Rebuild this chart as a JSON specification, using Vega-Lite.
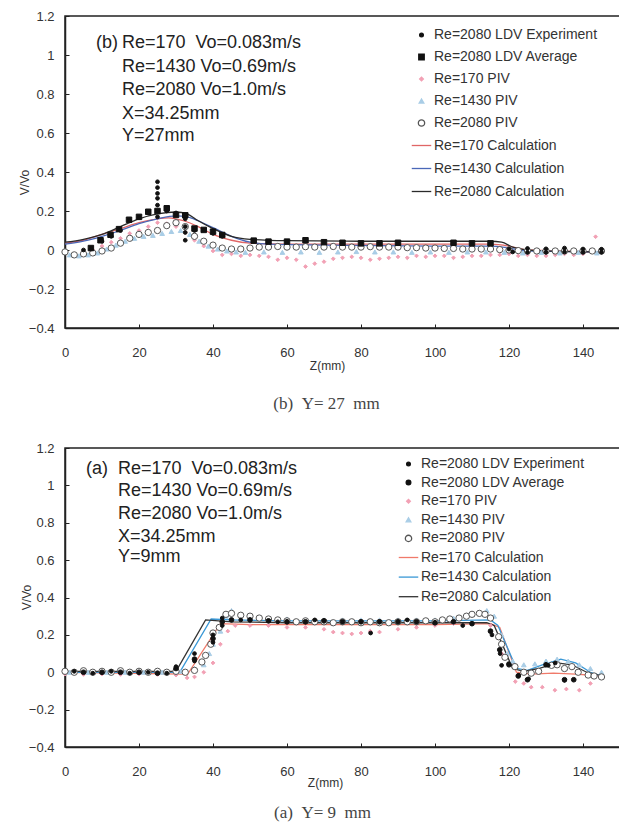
{
  "$schema": "https://vega.github.io/schema/vega-lite/v6.json",
  "padding": {"left": 17, "top": 9, "right": 0, "bottom": 0},
  "background": "white",
  "bounds": "flush",
  "spacing": 120,
  "config": {
    "view": {"stroke": "#222", "strokeWidth": 1.5},
    "font": "Liberation Sans",
    "axis": {"grid": false, "domainColor": "#222", "domainWidth": 1.5, "tickColor": "#222", "tickSize": -4, "tickWidth": 1, "labelFont": "Liberation Sans", "labelFontSize": 13, "labelColor": "#333", "titleFont": "Liberation Sans", "titleFontSize": 12, "titleFontWeight": "normal", "titleColor": "#333", "labelFlush": false, "labelOverlap": false},
    "axisY": {"labelOverlap": false, "labelSeparation": 0},
    "axisQuantitative": {"labelOverlap": false},
    "title": {"font": "Liberation Serif", "fontSize": 17, "fontWeight": "normal", "color": "#444"}
  },
  "datasets": {
    "topLines": [
      {"z":0,"v":0.035,"s":"Re=170 Calculation"},{"z":5,"v":0.05,"s":"Re=170 Calculation"},{"z":10,"v":0.08,"s":"Re=170 Calculation"},{"z":15,"v":0.11,"s":"Re=170 Calculation"},{"z":20,"v":0.14,"s":"Re=170 Calculation"},{"z":25,"v":0.16,"s":"Re=170 Calculation"},{"z":28,"v":0.165,"s":"Re=170 Calculation"},{"z":32,"v":0.15,"s":"Re=170 Calculation"},{"z":36,"v":0.12,"s":"Re=170 Calculation"},{"z":40,"v":0.08,"s":"Re=170 Calculation"},{"z":45,"v":0.05,"s":"Re=170 Calculation"},{"z":50,"v":0.035,"s":"Re=170 Calculation"},{"z":60,"v":0.03,"s":"Re=170 Calculation"},{"z":100,"v":0.03,"s":"Re=170 Calculation"},{"z":115,"v":0.03,"s":"Re=170 Calculation"},{"z":120,"v":0.02,"s":"Re=170 Calculation"},{"z":125,"v":0.0,"s":"Re=170 Calculation"},{"z":145,"v":-0.01,"s":"Re=170 Calculation"},
      {"z":0,"v":0.03,"s":"Re=1430 Calculation"},{"z":5,"v":0.045,"s":"Re=1430 Calculation"},{"z":10,"v":0.07,"s":"Re=1430 Calculation"},{"z":15,"v":0.1,"s":"Re=1430 Calculation"},{"z":20,"v":0.135,"s":"Re=1430 Calculation"},{"z":25,"v":0.16,"s":"Re=1430 Calculation"},{"z":30,"v":0.175,"s":"Re=1430 Calculation"},{"z":33,"v":0.17,"s":"Re=1430 Calculation"},{"z":36,"v":0.15,"s":"Re=1430 Calculation"},{"z":40,"v":0.115,"s":"Re=1430 Calculation"},{"z":45,"v":0.07,"s":"Re=1430 Calculation"},{"z":50,"v":0.04,"s":"Re=1430 Calculation"},{"z":55,"v":0.03,"s":"Re=1430 Calculation"},{"z":70,"v":0.025,"s":"Re=1430 Calculation"},{"z":100,"v":0.02,"s":"Re=1430 Calculation"},{"z":115,"v":0.02,"s":"Re=1430 Calculation"},{"z":120,"v":0.01,"s":"Re=1430 Calculation"},{"z":125,"v":-0.005,"s":"Re=1430 Calculation"},{"z":145,"v":-0.01,"s":"Re=1430 Calculation"},
      {"z":0,"v":0.04,"s":"Re=2080 Calculation"},{"z":5,"v":0.055,"s":"Re=2080 Calculation"},{"z":10,"v":0.08,"s":"Re=2080 Calculation"},{"z":15,"v":0.12,"s":"Re=2080 Calculation"},{"z":20,"v":0.16,"s":"Re=2080 Calculation"},{"z":25,"v":0.185,"s":"Re=2080 Calculation"},{"z":30,"v":0.195,"s":"Re=2080 Calculation"},{"z":33,"v":0.185,"s":"Re=2080 Calculation"},{"z":36,"v":0.15,"s":"Re=2080 Calculation"},{"z":40,"v":0.11,"s":"Re=2080 Calculation"},{"z":45,"v":0.07,"s":"Re=2080 Calculation"},{"z":50,"v":0.055,"s":"Re=2080 Calculation"},{"z":60,"v":0.048,"s":"Re=2080 Calculation"},{"z":80,"v":0.045,"s":"Re=2080 Calculation"},{"z":100,"v":0.045,"s":"Re=2080 Calculation"},{"z":115,"v":0.045,"s":"Re=2080 Calculation"},{"z":118,"v":0.04,"s":"Re=2080 Calculation"},{"z":121,"v":0.015,"s":"Re=2080 Calculation"},{"z":125,"v":0.0,"s":"Re=2080 Calculation"},{"z":130,"v":-0.005,"s":"Re=2080 Calculation"},{"z":145,"v":-0.01,"s":"Re=2080 Calculation"}
    ],
    "topPoints": [
      {"z":0,"v":-0.005,"s":"Re=170 PIV"},{"z":2.5,"v":-0.02,"s":"Re=170 PIV"},{"z":5,"v":-0.02,"s":"Re=170 PIV"},{"z":7.5,"v":0.0,"s":"Re=170 PIV"},{"z":10,"v":0.02,"s":"Re=170 PIV"},{"z":12.5,"v":0.04,"s":"Re=170 PIV"},{"z":15,"v":0.06,"s":"Re=170 PIV"},{"z":17.5,"v":0.085,"s":"Re=170 PIV"},{"z":20,"v":0.1,"s":"Re=170 PIV"},{"z":22.5,"v":0.12,"s":"Re=170 PIV"},{"z":25,"v":0.14,"s":"Re=170 PIV"},{"z":27.5,"v":0.135,"s":"Re=170 PIV"},{"z":30,"v":0.12,"s":"Re=170 PIV"},{"z":32.5,"v":0.09,"s":"Re=170 PIV"},{"z":35,"v":0.05,"s":"Re=170 PIV"},{"z":37.5,"v":0.02,"s":"Re=170 PIV"},{"z":40,"v":-0.005,"s":"Re=170 PIV"},{"z":42.5,"v":-0.025,"s":"Re=170 PIV"},{"z":45,"v":-0.02,"s":"Re=170 PIV"},{"z":47.5,"v":-0.03,"s":"Re=170 PIV"},{"z":50,"v":-0.025,"s":"Re=170 PIV"},{"z":52.5,"v":-0.03,"s":"Re=170 PIV"},{"z":55,"v":-0.035,"s":"Re=170 PIV"},{"z":57.5,"v":-0.05,"s":"Re=170 PIV"},{"z":60,"v":-0.04,"s":"Re=170 PIV"},{"z":62.5,"v":-0.05,"s":"Re=170 PIV"},{"z":65,"v":-0.085,"s":"Re=170 PIV"},{"z":67.5,"v":-0.07,"s":"Re=170 PIV"},{"z":70,"v":-0.06,"s":"Re=170 PIV"},{"z":72.5,"v":-0.045,"s":"Re=170 PIV"},{"z":75,"v":-0.04,"s":"Re=170 PIV"},{"z":77.5,"v":-0.035,"s":"Re=170 PIV"},{"z":80,"v":-0.04,"s":"Re=170 PIV"},{"z":82.5,"v":-0.05,"s":"Re=170 PIV"},{"z":85,"v":-0.045,"s":"Re=170 PIV"},{"z":87.5,"v":-0.04,"s":"Re=170 PIV"},{"z":90,"v":-0.035,"s":"Re=170 PIV"},{"z":92.5,"v":-0.04,"s":"Re=170 PIV"},{"z":95,"v":-0.03,"s":"Re=170 PIV"},{"z":97.5,"v":-0.035,"s":"Re=170 PIV"},{"z":100,"v":-0.03,"s":"Re=170 PIV"},{"z":102.5,"v":-0.03,"s":"Re=170 PIV"},{"z":105,"v":-0.04,"s":"Re=170 PIV"},{"z":107.5,"v":-0.035,"s":"Re=170 PIV"},{"z":110,"v":-0.03,"s":"Re=170 PIV"},{"z":112.5,"v":-0.03,"s":"Re=170 PIV"},{"z":115,"v":-0.025,"s":"Re=170 PIV"},{"z":117.5,"v":-0.025,"s":"Re=170 PIV"},{"z":120,"v":-0.02,"s":"Re=170 PIV"},{"z":122.5,"v":-0.03,"s":"Re=170 PIV"},{"z":125,"v":-0.025,"s":"Re=170 PIV"},{"z":127.5,"v":-0.03,"s":"Re=170 PIV"},{"z":130,"v":-0.03,"s":"Re=170 PIV"},{"z":132.5,"v":-0.025,"s":"Re=170 PIV"},{"z":135,"v":-0.02,"s":"Re=170 PIV"},{"z":137.5,"v":-0.025,"s":"Re=170 PIV"},{"z":140,"v":-0.02,"s":"Re=170 PIV"},{"z":143.4,"v":0.068,"s":"Re=170 PIV"},
      {"z":1.25,"v":-0.025,"s":"Re=1430 PIV"},{"z":3.75,"v":-0.03,"s":"Re=1430 PIV"},{"z":6.25,"v":-0.025,"s":"Re=1430 PIV"},{"z":8.75,"v":-0.015,"s":"Re=1430 PIV"},{"z":11.25,"v":0.005,"s":"Re=1430 PIV"},{"z":13.75,"v":0.025,"s":"Re=1430 PIV"},{"z":16.25,"v":0.045,"s":"Re=1430 PIV"},{"z":18.75,"v":0.06,"s":"Re=1430 PIV"},{"z":21.25,"v":0.07,"s":"Re=1430 PIV"},{"z":23.75,"v":0.075,"s":"Re=1430 PIV"},{"z":26.25,"v":0.085,"s":"Re=1430 PIV"},{"z":28.75,"v":0.095,"s":"Re=1430 PIV"},{"z":31.25,"v":0.1,"s":"Re=1430 PIV"},{"z":33.75,"v":0.08,"s":"Re=1430 PIV"},{"z":36.25,"v":0.045,"s":"Re=1430 PIV"},{"z":38.75,"v":0.02,"s":"Re=1430 PIV"},{"z":41.25,"v":0.005,"s":"Re=1430 PIV"},{"z":43.75,"v":-0.005,"s":"Re=1430 PIV"},{"z":46.25,"v":-0.01,"s":"Re=1430 PIV"},{"z":48.75,"v":-0.012,"s":"Re=1430 PIV"},{"z":53.75,"v":-0.01,"s":"Re=1430 PIV"},{"z":58.75,"v":-0.012,"s":"Re=1430 PIV"},{"z":63.75,"v":-0.01,"s":"Re=1430 PIV"},{"z":68.75,"v":-0.012,"s":"Re=1430 PIV"},{"z":73.75,"v":-0.01,"s":"Re=1430 PIV"},{"z":78.75,"v":-0.008,"s":"Re=1430 PIV"},{"z":83.75,"v":-0.01,"s":"Re=1430 PIV"},{"z":88.75,"v":-0.01,"s":"Re=1430 PIV"},{"z":93.75,"v":-0.012,"s":"Re=1430 PIV"},{"z":98.75,"v":-0.01,"s":"Re=1430 PIV"},{"z":103.75,"v":-0.012,"s":"Re=1430 PIV"},{"z":108.75,"v":-0.01,"s":"Re=1430 PIV"},{"z":113.75,"v":-0.01,"s":"Re=1430 PIV"},{"z":118.75,"v":-0.012,"s":"Re=1430 PIV"},{"z":123.75,"v":-0.015,"s":"Re=1430 PIV"},{"z":128.75,"v":-0.012,"s":"Re=1430 PIV"},{"z":133.75,"v":-0.015,"s":"Re=1430 PIV"},{"z":138.75,"v":-0.012,"s":"Re=1430 PIV"},{"z":143.75,"v":-0.015,"s":"Re=1430 PIV"},
      {"z":0,"v":-0.01,"s":"Re=2080 PIV"},{"z":2.5,"v":-0.025,"s":"Re=2080 PIV"},{"z":5,"v":-0.02,"s":"Re=2080 PIV"},{"z":7.5,"v":-0.015,"s":"Re=2080 PIV"},{"z":10,"v":-0.005,"s":"Re=2080 PIV"},{"z":12.5,"v":0.01,"s":"Re=2080 PIV"},{"z":15,"v":0.035,"s":"Re=2080 PIV"},{"z":17.5,"v":0.06,"s":"Re=2080 PIV"},{"z":20,"v":0.08,"s":"Re=2080 PIV"},{"z":22.5,"v":0.09,"s":"Re=2080 PIV"},{"z":25,"v":0.1,"s":"Re=2080 PIV"},{"z":27.5,"v":0.125,"s":"Re=2080 PIV"},{"z":30,"v":0.14,"s":"Re=2080 PIV"},{"z":32.5,"v":0.12,"s":"Re=2080 PIV"},{"z":35,"v":0.07,"s":"Re=2080 PIV"},{"z":37.5,"v":0.045,"s":"Re=2080 PIV"},{"z":40,"v":0.025,"s":"Re=2080 PIV"},{"z":42.5,"v":0.01,"s":"Re=2080 PIV"},{"z":45,"v":0.005,"s":"Re=2080 PIV"},{"z":47.5,"v":0.005,"s":"Re=2080 PIV"},{"z":50,"v":0.01,"s":"Re=2080 PIV"},{"z":52.5,"v":0.015,"s":"Re=2080 PIV"},{"z":55,"v":0.015,"s":"Re=2080 PIV"},{"z":57.5,"v":0.018,"s":"Re=2080 PIV"},{"z":60,"v":0.015,"s":"Re=2080 PIV"},{"z":62.5,"v":0.015,"s":"Re=2080 PIV"},{"z":65,"v":0.017,"s":"Re=2080 PIV"},{"z":67.5,"v":0.015,"s":"Re=2080 PIV"},{"z":70,"v":0.015,"s":"Re=2080 PIV"},{"z":72.5,"v":0.018,"s":"Re=2080 PIV"},{"z":75,"v":0.015,"s":"Re=2080 PIV"},{"z":77.5,"v":0.015,"s":"Re=2080 PIV"},{"z":80,"v":0.015,"s":"Re=2080 PIV"},{"z":82.5,"v":0.017,"s":"Re=2080 PIV"},{"z":85,"v":0.015,"s":"Re=2080 PIV"},{"z":87.5,"v":0.015,"s":"Re=2080 PIV"},{"z":90,"v":0.015,"s":"Re=2080 PIV"},{"z":92.5,"v":0.012,"s":"Re=2080 PIV"},{"z":95,"v":0.012,"s":"Re=2080 PIV"},{"z":97.5,"v":0.01,"s":"Re=2080 PIV"},{"z":100,"v":0.01,"s":"Re=2080 PIV"},{"z":102.5,"v":0.008,"s":"Re=2080 PIV"},{"z":105,"v":0.008,"s":"Re=2080 PIV"},{"z":107.5,"v":0.005,"s":"Re=2080 PIV"},{"z":110,"v":0.005,"s":"Re=2080 PIV"},{"z":112.5,"v":0.005,"s":"Re=2080 PIV"},{"z":115,"v":0.005,"s":"Re=2080 PIV"},{"z":117.5,"v":0.002,"s":"Re=2080 PIV"},{"z":120,"v":0.0,"s":"Re=2080 PIV"},{"z":122.5,"v":-0.003,"s":"Re=2080 PIV"},{"z":125,"v":-0.005,"s":"Re=2080 PIV"},{"z":127.5,"v":-0.005,"s":"Re=2080 PIV"},{"z":130,"v":-0.005,"s":"Re=2080 PIV"},{"z":132.5,"v":-0.005,"s":"Re=2080 PIV"},{"z":135,"v":-0.005,"s":"Re=2080 PIV"},{"z":137.5,"v":-0.005,"s":"Re=2080 PIV"},{"z":140,"v":-0.005,"s":"Re=2080 PIV"},{"z":142.5,"v":-0.005,"s":"Re=2080 PIV"},{"z":145,"v":-0.005,"s":"Re=2080 PIV"},
      {"z":7,"v":0.01,"s":"Re=2080 LDV Average"},{"z":9.6,"v":0.05,"s":"Re=2080 LDV Average"},{"z":12.3,"v":0.078,"s":"Re=2080 LDV Average"},{"z":14.6,"v":0.107,"s":"Re=2080 LDV Average"},{"z":17.3,"v":0.155,"s":"Re=2080 LDV Average"},{"z":20,"v":0.17,"s":"Re=2080 LDV Average"},{"z":22.5,"v":0.196,"s":"Re=2080 LDV Average"},{"z":25,"v":0.2,"s":"Re=2080 LDV Average"},{"z":27.5,"v":0.214,"s":"Re=2080 LDV Average"},{"z":30,"v":0.18,"s":"Re=2080 LDV Average"},{"z":32.5,"v":0.178,"s":"Re=2080 LDV Average"},{"z":35,"v":0.11,"s":"Re=2080 LDV Average"},{"z":37.5,"v":0.103,"s":"Re=2080 LDV Average"},{"z":40,"v":0.094,"s":"Re=2080 LDV Average"},{"z":42.5,"v":0.077,"s":"Re=2080 LDV Average"},{"z":51,"v":0.048,"s":"Re=2080 LDV Average"},{"z":55,"v":0.043,"s":"Re=2080 LDV Average"},{"z":60,"v":0.043,"s":"Re=2080 LDV Average"},{"z":65,"v":0.05,"s":"Re=2080 LDV Average"},{"z":70,"v":0.04,"s":"Re=2080 LDV Average"},{"z":75,"v":0.037,"s":"Re=2080 LDV Average"},{"z":80,"v":0.034,"s":"Re=2080 LDV Average"},{"z":85,"v":0.034,"s":"Re=2080 LDV Average"},{"z":90,"v":0.037,"s":"Re=2080 LDV Average"},{"z":105,"v":0.037,"s":"Re=2080 LDV Average"},{"z":110,"v":0.034,"s":"Re=2080 LDV Average"},{"z":115,"v":0.034,"s":"Re=2080 LDV Average"},
      {"z":5,"v":0.0,"s":"Re=2080 LDV Experiment"},{"z":7,"v":0.005,"s":"Re=2080 LDV Experiment"},{"z":10,"v":0.045,"s":"Re=2080 LDV Experiment"},{"z":12.5,"v":0.07,"s":"Re=2080 LDV Experiment"},{"z":15,"v":0.1,"s":"Re=2080 LDV Experiment"},{"z":17.5,"v":0.15,"s":"Re=2080 LDV Experiment"},{"z":20,"v":0.165,"s":"Re=2080 LDV Experiment"},{"z":22.5,"v":0.19,"s":"Re=2080 LDV Experiment"},{"z":25,"v":0.35,"s":"Re=2080 LDV Experiment"},{"z":25,"v":0.32,"s":"Re=2080 LDV Experiment"},{"z":25,"v":0.29,"s":"Re=2080 LDV Experiment"},{"z":25,"v":0.265,"s":"Re=2080 LDV Experiment"},{"z":25,"v":0.23,"s":"Re=2080 LDV Experiment"},{"z":25,"v":0.17,"s":"Re=2080 LDV Experiment"},{"z":27.5,"v":0.2,"s":"Re=2080 LDV Experiment"},{"z":30,"v":0.19,"s":"Re=2080 LDV Experiment"},{"z":32.5,"v":0.16,"s":"Re=2080 LDV Experiment"},{"z":32.5,"v":0.12,"s":"Re=2080 LDV Experiment"},{"z":32.5,"v":0.09,"s":"Re=2080 LDV Experiment"},{"z":32.5,"v":0.05,"s":"Re=2080 LDV Experiment"},{"z":35,"v":0.1,"s":"Re=2080 LDV Experiment"},{"z":40,"v":0.085,"s":"Re=2080 LDV Experiment"},{"z":42.5,"v":0.07,"s":"Re=2080 LDV Experiment"},{"z":120,"v":0.005,"s":"Re=2080 LDV Experiment"},{"z":121,"v":-0.01,"s":"Re=2080 LDV Experiment"},{"z":125,"v":-0.012,"s":"Re=2080 LDV Experiment"},{"z":125,"v":0.008,"s":"Re=2080 LDV Experiment"},{"z":130,"v":-0.012,"s":"Re=2080 LDV Experiment"},{"z":130,"v":0.006,"s":"Re=2080 LDV Experiment"},{"z":135,"v":-0.01,"s":"Re=2080 LDV Experiment"},{"z":135,"v":0.01,"s":"Re=2080 LDV Experiment"},{"z":140,"v":-0.012,"s":"Re=2080 LDV Experiment"},{"z":140,"v":0.005,"s":"Re=2080 LDV Experiment"},{"z":145,"v":-0.012,"s":"Re=2080 LDV Experiment"},{"z":145,"v":0.004,"s":"Re=2080 LDV Experiment"}
    ],
    "topText": [
      {"z":8.4,"v":1.06,"t":"(b)"},{"z":15.4,"v":1.06,"t":"Re=170\u00a0\u00a0Vo=0.083m/s"},{"z":15.4,"v":0.938,"t":"Re=1430 Vo=0.69m/s"},{"z":15.4,"v":0.82,"t":"Re=2080 Vo=1.0m/s"},{"z":15.4,"v":0.70,"t":"X=34.25mm"},{"z":15.4,"v":0.585,"t":"Y=27mm"}
    ],
    "botLines": [
      {"z":0,"v":0.0,"s":"Re=170 Calculation"},{"z":32,"v":-0.01,"s":"Re=170 Calculation"},{"z":33,"v":-0.015,"s":"Re=170 Calculation"},{"z":42,"v":0.26,"s":"Re=170 Calculation"},{"z":50,"v":0.255,"s":"Re=170 Calculation"},{"z":100,"v":0.255,"s":"Re=170 Calculation"},{"z":115,"v":0.26,"s":"Re=170 Calculation"},{"z":117.5,"v":0.24,"s":"Re=170 Calculation"},{"z":122,"v":0.0,"s":"Re=170 Calculation"},{"z":126,"v":-0.01,"s":"Re=170 Calculation"},{"z":132,"v":-0.005,"s":"Re=170 Calculation"},{"z":138,"v":-0.01,"s":"Re=170 Calculation"},{"z":145,"v":-0.02,"s":"Re=170 Calculation"},
      {"z":0,"v":0.0,"s":"Re=1430 Calculation"},{"z":31,"v":0.0,"s":"Re=1430 Calculation"},{"z":39.5,"v":0.285,"s":"Re=1430 Calculation"},{"z":45,"v":0.28,"s":"Re=1430 Calculation"},{"z":60,"v":0.275,"s":"Re=1430 Calculation"},{"z":100,"v":0.275,"s":"Re=1430 Calculation"},{"z":115,"v":0.28,"s":"Re=1430 Calculation"},{"z":117,"v":0.25,"s":"Re=1430 Calculation"},{"z":122,"v":0.02,"s":"Re=1430 Calculation"},{"z":125,"v":0.01,"s":"Re=1430 Calculation"},{"z":129,"v":0.04,"s":"Re=1430 Calculation"},{"z":134,"v":0.07,"s":"Re=1430 Calculation"},{"z":138,"v":0.05,"s":"Re=1430 Calculation"},{"z":142,"v":0.0,"s":"Re=1430 Calculation"},{"z":145,"v":-0.02,"s":"Re=1430 Calculation"},
      {"z":0,"v":0.005,"s":"Re=2080 Calculation"},{"z":30,"v":0.005,"s":"Re=2080 Calculation"},{"z":38,"v":0.28,"s":"Re=2080 Calculation"},{"z":45,"v":0.27,"s":"Re=2080 Calculation"},{"z":60,"v":0.265,"s":"Re=2080 Calculation"},{"z":100,"v":0.265,"s":"Re=2080 Calculation"},{"z":114,"v":0.265,"s":"Re=2080 Calculation"},{"z":116,"v":0.25,"s":"Re=2080 Calculation"},{"z":121,"v":0.02,"s":"Re=2080 Calculation"},{"z":124,"v":0.005,"s":"Re=2080 Calculation"},{"z":128,"v":0.02,"s":"Re=2080 Calculation"},{"z":133,"v":0.05,"s":"Re=2080 Calculation"},{"z":137,"v":0.04,"s":"Re=2080 Calculation"},{"z":141,"v":0.0,"s":"Re=2080 Calculation"},{"z":145,"v":-0.02,"s":"Re=2080 Calculation"}
    ],
    "botPoints": [
      {"z":0,"v":-0.01,"s":"Re=170 PIV"},{"z":5,"v":-0.012,"s":"Re=170 PIV"},{"z":10,"v":-0.01,"s":"Re=170 PIV"},{"z":15,"v":-0.012,"s":"Re=170 PIV"},{"z":20,"v":-0.01,"s":"Re=170 PIV"},{"z":25,"v":-0.012,"s":"Re=170 PIV"},{"z":30,"v":-0.015,"s":"Re=170 PIV"},{"z":33,"v":-0.03,"s":"Re=170 PIV"},{"z":35,"v":-0.025,"s":"Re=170 PIV"},{"z":37.5,"v":0.0,"s":"Re=170 PIV"},{"z":40,"v":0.05,"s":"Re=170 PIV"},{"z":42,"v":0.15,"s":"Re=170 PIV"},{"z":44,"v":0.22,"s":"Re=170 PIV"},{"z":46,"v":0.25,"s":"Re=170 PIV"},{"z":50,"v":0.25,"s":"Re=170 PIV"},{"z":55,"v":0.25,"s":"Re=170 PIV"},{"z":60,"v":0.24,"s":"Re=170 PIV"},{"z":65,"v":0.24,"s":"Re=170 PIV"},{"z":70,"v":0.23,"s":"Re=170 PIV"},{"z":72.5,"v":0.215,"s":"Re=170 PIV"},{"z":75,"v":0.21,"s":"Re=170 PIV"},{"z":77.5,"v":0.205,"s":"Re=170 PIV"},{"z":80,"v":0.21,"s":"Re=170 PIV"},{"z":82.5,"v":0.22,"s":"Re=170 PIV"},{"z":85,"v":0.215,"s":"Re=170 PIV"},{"z":90,"v":0.23,"s":"Re=170 PIV"},{"z":95,"v":0.24,"s":"Re=170 PIV"},{"z":100,"v":0.25,"s":"Re=170 PIV"},{"z":105,"v":0.26,"s":"Re=170 PIV"},{"z":110,"v":0.26,"s":"Re=170 PIV"},{"z":115,"v":0.25,"s":"Re=170 PIV"},{"z":118,"v":0.1,"s":"Re=170 PIV"},{"z":121.7,"v":-0.05,"s":"Re=170 PIV"},{"z":124,"v":-0.06,"s":"Re=170 PIV"},{"z":126,"v":-0.08,"s":"Re=170 PIV"},{"z":129,"v":-0.08,"s":"Re=170 PIV"},{"z":132.4,"v":-0.096,"s":"Re=170 PIV"},{"z":135.5,"v":-0.09,"s":"Re=170 PIV"},{"z":139,"v":-0.096,"s":"Re=170 PIV"},{"z":142,"v":-0.06,"s":"Re=170 PIV"},
      {"z":1.25,"v":0.0,"s":"Re=1430 PIV"},{"z":6.25,"v":0.0,"s":"Re=1430 PIV"},{"z":11.25,"v":0.0,"s":"Re=1430 PIV"},{"z":16.25,"v":0.0,"s":"Re=1430 PIV"},{"z":21.25,"v":0.0,"s":"Re=1430 PIV"},{"z":26.25,"v":0.0,"s":"Re=1430 PIV"},{"z":31.25,"v":0.005,"s":"Re=1430 PIV"},{"z":35,"v":0.02,"s":"Re=1430 PIV"},{"z":37.5,"v":0.04,"s":"Re=1430 PIV"},{"z":39,"v":0.1,"s":"Re=1430 PIV"},{"z":40,"v":0.15,"s":"Re=1430 PIV"},{"z":42,"v":0.22,"s":"Re=1430 PIV"},{"z":43.5,"v":0.3,"s":"Re=1430 PIV"},{"z":45,"v":0.33,"s":"Re=1430 PIV"},{"z":47.5,"v":0.31,"s":"Re=1430 PIV"},{"z":50,"v":0.3,"s":"Re=1430 PIV"},{"z":55,"v":0.29,"s":"Re=1430 PIV"},{"z":60,"v":0.285,"s":"Re=1430 PIV"},{"z":65,"v":0.28,"s":"Re=1430 PIV"},{"z":70,"v":0.28,"s":"Re=1430 PIV"},{"z":75,"v":0.28,"s":"Re=1430 PIV"},{"z":80,"v":0.28,"s":"Re=1430 PIV"},{"z":85,"v":0.28,"s":"Re=1430 PIV"},{"z":90,"v":0.28,"s":"Re=1430 PIV"},{"z":95,"v":0.28,"s":"Re=1430 PIV"},{"z":100,"v":0.28,"s":"Re=1430 PIV"},{"z":105,"v":0.29,"s":"Re=1430 PIV"},{"z":110,"v":0.31,"s":"Re=1430 PIV"},{"z":114,"v":0.33,"s":"Re=1430 PIV"},{"z":116,"v":0.3,"s":"Re=1430 PIV"},{"z":118,"v":0.2,"s":"Re=1430 PIV"},{"z":119.5,"v":0.1,"s":"Re=1430 PIV"},{"z":121,"v":0.06,"s":"Re=1430 PIV"},{"z":124,"v":0.04,"s":"Re=1430 PIV"},{"z":127,"v":0.045,"s":"Re=1430 PIV"},{"z":130,"v":0.06,"s":"Re=1430 PIV"},{"z":133,"v":0.07,"s":"Re=1430 PIV"},{"z":136,"v":0.06,"s":"Re=1430 PIV"},{"z":139,"v":0.04,"s":"Re=1430 PIV"},{"z":142,"v":0.02,"s":"Re=1430 PIV"},{"z":145,"v":0.0,"s":"Re=1430 PIV"},
      {"z":0,"v":0.005,"s":"Re=2080 PIV"},{"z":2.5,"v":0.0,"s":"Re=2080 PIV"},{"z":5,"v":0.008,"s":"Re=2080 PIV"},{"z":7.5,"v":0.0,"s":"Re=2080 PIV"},{"z":10,"v":0.005,"s":"Re=2080 PIV"},{"z":12.5,"v":0.0,"s":"Re=2080 PIV"},{"z":15,"v":0.008,"s":"Re=2080 PIV"},{"z":17.5,"v":0.0,"s":"Re=2080 PIV"},{"z":20,"v":0.005,"s":"Re=2080 PIV"},{"z":22.5,"v":0.0,"s":"Re=2080 PIV"},{"z":25,"v":0.005,"s":"Re=2080 PIV"},{"z":27.5,"v":0.0,"s":"Re=2080 PIV"},{"z":30,"v":0.005,"s":"Re=2080 PIV"},{"z":32.5,"v":0.0,"s":"Re=2080 PIV"},{"z":35,"v":0.01,"s":"Re=2080 PIV"},{"z":37,"v":0.055,"s":"Re=2080 PIV"},{"z":38,"v":0.09,"s":"Re=2080 PIV"},{"z":39.4,"v":0.15,"s":"Re=2080 PIV"},{"z":40,"v":0.21,"s":"Re=2080 PIV"},{"z":41.7,"v":0.24,"s":"Re=2080 PIV"},{"z":43.5,"v":0.31,"s":"Re=2080 PIV"},{"z":45,"v":0.315,"s":"Re=2080 PIV"},{"z":47.5,"v":0.305,"s":"Re=2080 PIV"},{"z":50,"v":0.3,"s":"Re=2080 PIV"},{"z":52.5,"v":0.29,"s":"Re=2080 PIV"},{"z":55,"v":0.285,"s":"Re=2080 PIV"},{"z":57.5,"v":0.28,"s":"Re=2080 PIV"},{"z":60,"v":0.275,"s":"Re=2080 PIV"},{"z":62.5,"v":0.27,"s":"Re=2080 PIV"},{"z":65,"v":0.275,"s":"Re=2080 PIV"},{"z":67.5,"v":0.27,"s":"Re=2080 PIV"},{"z":70,"v":0.27,"s":"Re=2080 PIV"},{"z":72.5,"v":0.265,"s":"Re=2080 PIV"},{"z":75,"v":0.27,"s":"Re=2080 PIV"},{"z":77.5,"v":0.27,"s":"Re=2080 PIV"},{"z":80,"v":0.265,"s":"Re=2080 PIV"},{"z":82.5,"v":0.27,"s":"Re=2080 PIV"},{"z":85,"v":0.265,"s":"Re=2080 PIV"},{"z":87.5,"v":0.265,"s":"Re=2080 PIV"},{"z":90,"v":0.27,"s":"Re=2080 PIV"},{"z":92.5,"v":0.27,"s":"Re=2080 PIV"},{"z":95,"v":0.27,"s":"Re=2080 PIV"},{"z":97.5,"v":0.275,"s":"Re=2080 PIV"},{"z":100,"v":0.27,"s":"Re=2080 PIV"},{"z":102,"v":0.28,"s":"Re=2080 PIV"},{"z":104,"v":0.285,"s":"Re=2080 PIV"},{"z":106.5,"v":0.29,"s":"Re=2080 PIV"},{"z":108.5,"v":0.3,"s":"Re=2080 PIV"},{"z":110,"v":0.31,"s":"Re=2080 PIV"},{"z":112,"v":0.315,"s":"Re=2080 PIV"},{"z":113.5,"v":0.31,"s":"Re=2080 PIV"},{"z":115,"v":0.29,"s":"Re=2080 PIV"},{"z":117.2,"v":0.19,"s":"Re=2080 PIV"},{"z":118,"v":0.15,"s":"Re=2080 PIV"},{"z":118.9,"v":0.08,"s":"Re=2080 PIV"},{"z":121.6,"v":0.03,"s":"Re=2080 PIV"},{"z":124,"v":0.0,"s":"Re=2080 PIV"},{"z":126,"v":-0.005,"s":"Re=2080 PIV"},{"z":128,"v":0.005,"s":"Re=2080 PIV"},{"z":131.5,"v":0.037,"s":"Re=2080 PIV"},{"z":133,"v":0.04,"s":"Re=2080 PIV"},{"z":135,"v":0.02,"s":"Re=2080 PIV"},{"z":137,"v":0.03,"s":"Re=2080 PIV"},{"z":138.7,"v":0.0,"s":"Re=2080 PIV"},{"z":141.4,"v":-0.015,"s":"Re=2080 PIV"},{"z":143,"v":-0.02,"s":"Re=2080 PIV"},{"z":145,"v":-0.025,"s":"Re=2080 PIV"},
      {"z":5,"v":0.0,"s":"Re=2080 LDV Average"},{"z":10,"v":0.0,"s":"Re=2080 LDV Average"},{"z":15,"v":0.0,"s":"Re=2080 LDV Average"},{"z":20,"v":0.0,"s":"Re=2080 LDV Average"},{"z":25,"v":-0.005,"s":"Re=2080 LDV Average"},{"z":30,"v":0.02,"s":"Re=2080 LDV Average"},{"z":35,"v":0.07,"s":"Re=2080 LDV Average"},{"z":40,"v":0.18,"s":"Re=2080 LDV Average"},{"z":42.5,"v":0.27,"s":"Re=2080 LDV Average"},{"z":45,"v":0.28,"s":"Re=2080 LDV Average"},{"z":50,"v":0.28,"s":"Re=2080 LDV Average"},{"z":55,"v":0.275,"s":"Re=2080 LDV Average"},{"z":60,"v":0.27,"s":"Re=2080 LDV Average"},{"z":65,"v":0.27,"s":"Re=2080 LDV Average"},{"z":70,"v":0.275,"s":"Re=2080 LDV Average"},{"z":75,"v":0.27,"s":"Re=2080 LDV Average"},{"z":80,"v":0.27,"s":"Re=2080 LDV Average"},{"z":85,"v":0.27,"s":"Re=2080 LDV Average"},{"z":90,"v":0.27,"s":"Re=2080 LDV Average"},{"z":95,"v":0.27,"s":"Re=2080 LDV Average"},{"z":100,"v":0.265,"s":"Re=2080 LDV Average"},{"z":105,"v":0.27,"s":"Re=2080 LDV Average"},{"z":110,"v":0.26,"s":"Re=2080 LDV Average"},{"z":115,"v":0.22,"s":"Re=2080 LDV Average"},{"z":117.5,"v":0.12,"s":"Re=2080 LDV Average"},{"z":120,"v":0.04,"s":"Re=2080 LDV Average"},{"z":122.5,"v":-0.02,"s":"Re=2080 LDV Average"},{"z":125,"v":-0.04,"s":"Re=2080 LDV Average"},{"z":130,"v":0.04,"s":"Re=2080 LDV Average"},{"z":135,"v":-0.04,"s":"Re=2080 LDV Average"},{"z":137.5,"v":-0.04,"s":"Re=2080 LDV Average"},
      {"z":2.5,"v":0.005,"s":"Re=2080 LDV Experiment"},{"z":7.5,"v":-0.005,"s":"Re=2080 LDV Experiment"},{"z":12.5,"v":0.005,"s":"Re=2080 LDV Experiment"},{"z":17.5,"v":-0.005,"s":"Re=2080 LDV Experiment"},{"z":22.5,"v":0.0,"s":"Re=2080 LDV Experiment"},{"z":27.5,"v":-0.005,"s":"Re=2080 LDV Experiment"},{"z":30,"v":0.03,"s":"Re=2080 LDV Experiment"},{"z":35,"v":0.1,"s":"Re=2080 LDV Experiment"},{"z":35,"v":0.06,"s":"Re=2080 LDV Experiment"},{"z":40,"v":0.2,"s":"Re=2080 LDV Experiment"},{"z":40,"v":0.16,"s":"Re=2080 LDV Experiment"},{"z":42.5,"v":0.25,"s":"Re=2080 LDV Experiment"},{"z":42.5,"v":0.29,"s":"Re=2080 LDV Experiment"},{"z":47.5,"v":0.28,"s":"Re=2080 LDV Experiment"},{"z":57.5,"v":0.27,"s":"Re=2080 LDV Experiment"},{"z":67.5,"v":0.28,"s":"Re=2080 LDV Experiment"},{"z":82.6,"v":0.21,"s":"Re=2080 LDV Experiment"},{"z":92.5,"v":0.28,"s":"Re=2080 LDV Experiment"},{"z":107.5,"v":0.25,"s":"Re=2080 LDV Experiment"},{"z":115.4,"v":0.2,"s":"Re=2080 LDV Experiment"},{"z":117.6,"v":0.1,"s":"Re=2080 LDV Experiment"},{"z":118,"v":0.037,"s":"Re=2080 LDV Experiment"},{"z":119.9,"v":0.046,"s":"Re=2080 LDV Experiment"},{"z":122.6,"v":-0.016,"s":"Re=2080 LDV Experiment"},{"z":125.3,"v":-0.035,"s":"Re=2080 LDV Experiment"},{"z":130.6,"v":0.037,"s":"Re=2080 LDV Experiment"},{"z":132.5,"v":0.05,"s":"Re=2080 LDV Experiment"},{"z":135,"v":-0.043,"s":"Re=2080 LDV Experiment"}
    ],
    "botText": [
      {"z":5.7,"v":1.085,"t":"(a)"},{"z":14.3,"v":1.085,"t":"Re=170\u00a0\u00a0Vo=0.083m/s"},{"z":14.3,"v":0.968,"t":"Re=1430 Vo=0.69m/s"},{"z":14.3,"v":0.845,"t":"Re=2080 Vo=1.0m/s"},{"z":14.3,"v":0.722,"t":"X=34.25mm"},{"z":14.3,"v":0.615,"t":"Y=9mm"}
    ]
  },
  "resolve": {"scale": {"x": "independent", "y": "independent", "stroke": "independent", "fill": "independent", "shape": "independent", "size": "independent"}, "legend": {"stroke": "independent", "fill": "independent", "shape": "independent", "size": "independent"}},
  "vconcat": [
    {
      "width": 555, "height": 312,
      "title": {"text": "(b)\u00a0\u00a0Y=\u00a027\u00a0\u00a0mm", "orient": "bottom", "offset": 25, "dx": -16},
      "layer": [
        {
          "data": {"name": "topLines"},
          "mark": {"type": "line", "strokeWidth": 1.3, "interpolate": "monotone"},
          "encoding": {
            "x": {"field": "z", "type": "quantitative", "scale": {"domain": [0, 150], "nice": false}, "axis": {"values": [0,20,40,60,80,100,120,140], "title": "Z(mm)", "titleX": 262, "titleY": 37, "titleAlign": "center", "titleBaseline": "middle", "labelPadding": 22, "labelOverlap": false, "labelFlush": false}},
            "y": {"field": "v", "type": "quantitative", "scale": {"domain": [-0.4, 1.2], "nice": false}, "axis": {"tickCount": 8, "format": ".1~f", "title": "V/Vo", "titleX": -41, "titleY": 166, "titleAlign": "center", "titleBaseline": "middle", "labelPadding": 15, "labelOverlap": false, "labelBound": false}},
            "stroke": {"field": "s", "type": "nominal", "scale": {"domain": ["Re=2080 LDV Experiment","Re=2080 LDV Average","Re=170 PIV","Re=1430 PIV","Re=2080 PIV","Re=170 Calculation","Re=1430 Calculation","Re=2080 Calculation"], "range": ["#111111","#111111","#f2a0b4","#a9cde6","#555555","#e06666","#4a68b8","#2a2a2a"]}, "legend": {"title": null, "orient": "none", "legendX": 349, "legendY": 12, "padding": 0, "labelOffset": 5, "rowPadding": 8, "labelFontSize": 14, "labelColor": "#333", "labelFont": "Liberation Sans", "symbolStrokeWidth": 1.3, "labelLimit": 300}}
          }
        },
        {
          "data": {"name": "topPoints"},
          "mark": {"type": "point", "opacity": 1, "strokeWidth": 1},
          "encoding": {
            "x": {"field": "z", "type": "quantitative"},
            "y": {"field": "v", "type": "quantitative"},
            "stroke": {"field": "s", "type": "nominal"},
            "fill": {"field": "s", "type": "nominal", "scale": {"domain": ["Re=2080 LDV Experiment","Re=2080 LDV Average","Re=170 PIV","Re=1430 PIV","Re=2080 PIV","Re=170 Calculation","Re=1430 Calculation","Re=2080 Calculation"], "range": ["#111111","#111111","#f2a0b4","#a9cde6","#ffffff","transparent","transparent","transparent"]}, "legend": {"title": null, "orient": "none", "legendX": 349, "legendY": 12, "padding": 0, "labelOffset": 5, "rowPadding": 8, "labelFontSize": 14, "labelColor": "#333", "labelFont": "Liberation Sans", "symbolStrokeWidth": 1.3, "labelLimit": 300}},
            "shape": {"field": "s", "type": "nominal", "scale": {"domain": ["Re=2080 LDV Experiment","Re=2080 LDV Average","Re=170 PIV","Re=1430 PIV","Re=2080 PIV","Re=170 Calculation","Re=1430 Calculation","Re=2080 Calculation"], "range": ["circle","square","diamond","triangle-up","circle","M-1.5,0H1.5","M-1.5,0H1.5","M-1.5,0H1.5"]}, "legend": {"title": null, "orient": "none", "legendX": 349, "legendY": 12, "padding": 0, "labelOffset": 5, "rowPadding": 8, "labelFontSize": 14, "labelColor": "#333", "labelFont": "Liberation Sans", "symbolStrokeWidth": 1.3, "labelLimit": 300}},
            "size": {"field": "s", "type": "nominal", "scale": {"type": "ordinal", "domain": ["Re=2080 LDV Experiment","Re=2080 LDV Average","Re=170 PIV","Re=1430 PIV","Re=2080 PIV","Re=170 Calculation","Re=1430 Calculation","Re=2080 Calculation"], "range": [14,30,14,22,40,169,169,169]}, "legend": {"title": null, "orient": "none", "legendX": 349, "legendY": 12, "padding": 0, "labelOffset": 5, "rowPadding": 8, "labelFontSize": 14, "labelColor": "#333", "labelFont": "Liberation Sans", "symbolStrokeWidth": 1.3, "labelLimit": 300}}
          }
        },
        {
          "data": {"name": "topText"},
          "mark": {"type": "text", "align": "left", "baseline": "middle", "fontSize": 18, "font": "Liberation Sans", "color": "#222"},
          "encoding": {
            "x": {"field": "z", "type": "quantitative"},
            "y": {"field": "v", "type": "quantitative"},
            "text": {"field": "t"}
          }
        }
      ]
    },
    {
      "width": 555, "height": 299,
      "title": {"text": "(a)\u00a0\u00a0Y=\u00a09\u00a0\u00a0mm", "orient": "bottom", "offset": 17, "dx": -20},
      "layer": [
        {
          "data": {"name": "botLines"},
          "mark": {"type": "line", "strokeWidth": 1.3},
          "encoding": {
            "x": {"field": "z", "type": "quantitative", "scale": {"domain": [0, 150], "nice": false}, "axis": {"values": [0,20,40,60,80,100,120,140], "title": "Z(mm)", "titleX": 260, "titleY": 35, "titleAlign": "center", "titleBaseline": "middle", "labelPadding": 22, "labelOverlap": false, "labelFlush": false}},
            "y": {"field": "v", "type": "quantitative", "scale": {"domain": [-0.4, 1.2], "nice": false}, "axis": {"tickCount": 8, "format": ".1~f", "title": "V/Vo", "titleX": -39, "titleY": 149, "titleAlign": "center", "titleBaseline": "middle", "labelPadding": 15, "labelOverlap": false, "labelBound": false}},
            "stroke": {"field": "s", "type": "nominal", "scale": {"domain": ["Re=2080 LDV Experiment","Re=2080 LDV Average","Re=170 PIV","Re=1430 PIV","Re=2080 PIV","Re=170 Calculation","Re=1430 Calculation","Re=2080 Calculation"], "range": ["#111111","#111111","#f2a0b4","#a9cde6","#555555","#f07a6a","#3a98d6","#333333"]}, "legend": {"title": null, "orient": "none", "legendX": 336, "legendY": 9, "padding": 0, "labelOffset": 5, "rowPadding": 4.6, "labelFontSize": 14, "labelColor": "#333", "labelFont": "Liberation Sans", "symbolStrokeWidth": 1.3, "labelLimit": 300}}
          }
        },
        {
          "data": {"name": "botPoints"},
          "mark": {"type": "point", "opacity": 1, "strokeWidth": 1},
          "encoding": {
            "x": {"field": "z", "type": "quantitative"},
            "y": {"field": "v", "type": "quantitative"},
            "stroke": {"field": "s", "type": "nominal"},
            "fill": {"field": "s", "type": "nominal", "scale": {"domain": ["Re=2080 LDV Experiment","Re=2080 LDV Average","Re=170 PIV","Re=1430 PIV","Re=2080 PIV","Re=170 Calculation","Re=1430 Calculation","Re=2080 Calculation"], "range": ["#111111","#111111","#f2a0b4","#a9cde6","#ffffff","transparent","transparent","transparent"]}, "legend": {"title": null, "orient": "none", "legendX": 336, "legendY": 9, "padding": 0, "labelOffset": 5, "rowPadding": 4.6, "labelFontSize": 14, "labelColor": "#333", "labelFont": "Liberation Sans", "symbolStrokeWidth": 1.3, "labelLimit": 300}},
            "shape": {"field": "s", "type": "nominal", "scale": {"domain": ["Re=2080 LDV Experiment","Re=2080 LDV Average","Re=170 PIV","Re=1430 PIV","Re=2080 PIV","Re=170 Calculation","Re=1430 Calculation","Re=2080 Calculation"], "range": ["circle","circle","diamond","triangle-up","circle","M-1.5,0H1.5","M-1.5,0H1.5","M-1.5,0H1.5"]}, "legend": {"title": null, "orient": "none", "legendX": 336, "legendY": 9, "padding": 0, "labelOffset": 5, "rowPadding": 4.6, "labelFontSize": 14, "labelColor": "#333", "labelFont": "Liberation Sans", "symbolStrokeWidth": 1.3, "labelLimit": 300}},
            "size": {"field": "s", "type": "nominal", "scale": {"type": "ordinal", "domain": ["Re=2080 LDV Experiment","Re=2080 LDV Average","Re=170 PIV","Re=1430 PIV","Re=2080 PIV","Re=170 Calculation","Re=1430 Calculation","Re=2080 Calculation"], "range": [14,22,14,22,40,169,169,169]}, "legend": {"title": null, "orient": "none", "legendX": 336, "legendY": 9, "padding": 0, "labelOffset": 5, "rowPadding": 4.6, "labelFontSize": 14, "labelColor": "#333", "labelFont": "Liberation Sans", "symbolStrokeWidth": 1.3, "labelLimit": 300}}
          }
        },
        {
          "data": {"name": "botText"},
          "mark": {"type": "text", "align": "left", "baseline": "middle", "fontSize": 18, "font": "Liberation Sans", "color": "#222"},
          "encoding": {
            "x": {"field": "z", "type": "quantitative"},
            "y": {"field": "v", "type": "quantitative"},
            "text": {"field": "t"}
          }
        }
      ]
    }
  ]
}
